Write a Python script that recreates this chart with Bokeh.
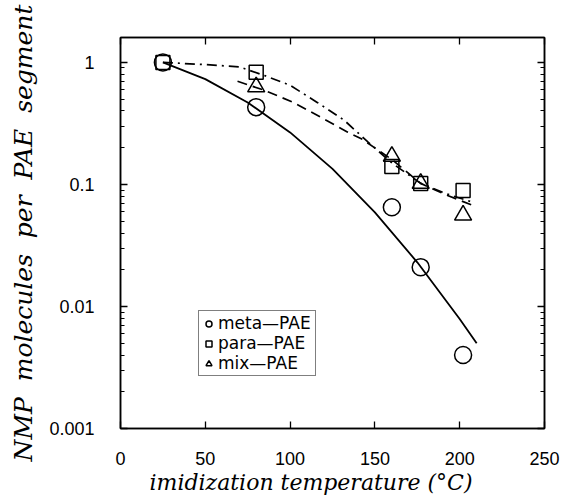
from bokeh.plotting import figure
from bokeh.models import (LogAxis, LinearAxis, FixedTicker, Legend, LegendItem, Range1d, Title)
from bokeh.embed import file_html
from bokeh.resources import INLINE

# ---- data ----
temperature = [25, 80, 160, 177, 202]
meta_pae = [1.0, 0.43, 0.065, 0.021, 0.004]
para_pae = [1.0, 0.83, 0.14, 0.102, 0.089]
mix_temperature = [80, 160, 177, 202]
mix_pae = [0.63, 0.17, 0.102, 0.056]

meta_fit_x = [25, 50, 75, 100, 125, 150, 175, 200, 210]
meta_fit_y = [1.0, 0.73, 0.47, 0.267, 0.134, 0.059, 0.023, 0.0079, 0.0050]
para_fit_x = [25, 50, 70, 85, 100, 116, 132, 146, 160, 177, 192, 207]
para_fit_y = [1.0, 0.96, 0.92, 0.78, 0.65, 0.47, 0.335, 0.222, 0.15, 0.102, 0.084, 0.072]
mix_fit_x = [69, 85, 102, 118, 134, 142, 160, 177, 192, 207]
mix_fit_y = [0.70, 0.59, 0.47, 0.356, 0.268, 0.237, 0.16, 0.102, 0.082, 0.068]

x_ticks = [0, 50, 100, 150, 200, 250]
y_ticks = [0.001, 0.01, 0.1, 1]
y_tick_labels = ["0.001", "0.01", "0.1", "1"]
y_minor = [d * k for d in [0.001, 0.01, 0.1, 1] for k in range(2, 10)]

series_labels = ["meta\u2014PAE", "para\u2014PAE", "mix\u2014PAE"]
x_title = "imidization temperature (\u00b0C)"
y_title = "\u00a0\u00a0".join(["NMP", "molecules", "per", "PAE", "segment"])

TICK_FONT = "Liberation Sans"
TITLE_FONT = "DejaVu Serif"

p = figure(width=565, height=499, output_backend="svg", toolbar_location=None,
           x_axis_type="linear", y_axis_type="log",
           x_range=Range1d(0, 250), y_range=Range1d(0.001, 1.6),
           min_border_left=120, min_border_right=21, min_border_top=37,
           min_border_bottom=71)
p.grid.visible = False
p.outline_line_color = "black"
p.outline_line_width = 1.5

xa = p.xaxis[0]
xa.ticker = FixedTicker(ticks=x_ticks, minor_ticks=[])
ya = p.yaxis[0]
ya.ticker = FixedTicker(ticks=y_ticks, minor_ticks=y_minor)
ya.major_label_overrides = {t: s for t, s in zip(y_ticks, y_tick_labels)}
ya.axis_label = y_title

top = LinearAxis(ticker=FixedTicker(ticks=x_ticks, minor_ticks=[]))
right = LogAxis(ticker=FixedTicker(ticks=y_ticks, minor_ticks=y_minor))
p.add_layout(top, "above")
p.add_layout(right, "right")

for ax in (xa, ya, top, right):
    ax.axis_line_color = "black"
    ax.axis_line_width = 1.5
    ax.major_tick_in = 7
    ax.major_tick_out = 0
    ax.minor_tick_in = 4
    ax.minor_tick_out = 0
    ax.major_tick_line_color = "black"
    ax.minor_tick_line_color = "black"
    ax.major_tick_line_width = 1.3
    ax.minor_tick_line_width = 1.2
    ax.major_label_text_font = TICK_FONT
    ax.major_label_text_font_size = "18px"
    ax.major_label_text_color = "black"
    ax.axis_label_text_font = TITLE_FONT
    ax.axis_label_text_font_style = "italic"
    ax.axis_label_text_color = "black"
for ax in (top, right):
    ax.major_label_text_font_size = "1px"
    ax.major_label_text_color = None
    ax.major_label_standoff = 0
ya.axis_label_text_font_size = "25px"
xa.major_label_standoff = 23
ya.major_label_standoff = 26
ya.axis_label_standoff = 8

# x-axis title, left-aligned a little inside the frame as in the reference
p.add_layout(Title(text=x_title, align="left", offset=29, standoff=0,
                   text_font=TITLE_FONT, text_font_style="italic", text_font_size="22px",
                   text_color="black"), "below")

# fitted curves
p.line(meta_fit_x, meta_fit_y, line_color="black", line_width=1.8)
p.line(para_fit_x, para_fit_y, line_color="black", line_width=1.7, line_dash="10 5 2 5")
p.line(mix_fit_x, mix_fit_y, line_color="black", line_width=1.7, line_dash="10 6")

# data markers
r_meta = p.scatter(temperature, meta_pae, marker="circle", size=17, fill_color=None,
                   line_color="black", line_width=1.5)
r_para = p.scatter(temperature, para_pae, marker="square", size=14, fill_color=None,
                   line_color="black", line_width=1.5)
r_mix = p.scatter(mix_temperature, mix_pae, marker="triangle", size=17, fill_color=None,
                  line_color="black", line_width=1.5)

legend = Legend(items=[LegendItem(label=l, renderers=[r])
                       for l, r in zip(series_labels, [r_meta, r_para, r_mix])],
                location=(78, 52), orientation="vertical",
                label_text_font="DejaVu Sans", label_text_font_size="17px",
                label_text_color="black",
                glyph_width=15, glyph_height=15, label_height=15, label_standoff=2,
                label_width=95, padding=2, spacing=0, margin=0,
                border_line_color="black", border_line_width=1.2,
                background_fill_color="white", background_fill_alpha=1.0)
p.add_layout(legend, "center")

open("out.html", "w").write(file_html(p, INLINE))
